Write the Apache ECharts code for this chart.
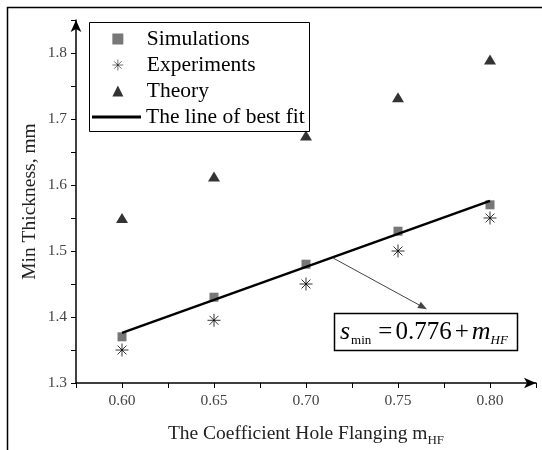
<!DOCTYPE html>
<html>
<head>
<meta charset="utf-8">
<script src="https://cdn.jsdelivr.net/npm/echarts@6/dist/echarts.min.js"></script>
<style>
  html, body { margin: 0; padding: 0; background: #fff; }
  #chart { width: 542px; height: 450px; }
</style>
</head>
<body>
<div id="chart"></div>
<script>
// values
var coef = [0.60, 0.65, 0.70, 0.75, 0.80];
var simulations = [1.37, 1.43, 1.48, 1.53, 1.57];
var experiments = [1.35, 1.395, 1.45, 1.50, 1.55];
var theory = [1.55, 1.613, 1.675, 1.733, 1.79];
var fitX = [0.60, 0.80];
var fitY = [1.376, 1.576];
var arrowFrom = [0.7147, 1.4894];
var arrowTo = [0.7636, 1.415];

function pairs(xs, ys) {
    return xs.map(function (x, i) { return [x, ys[i]]; });
}

var serif = 'Liberation Serif, Times New Roman, serif';
var squarePath = 'path://M0,0H1V1H0Z';
var trianglePath = 'path://M0.5,0L1,1H0Z';
var starPath = 'path://M5,0V10M0,5H10M1.6,1.6L8.4,8.4M1.6,8.4L8.4,1.6';

var myChart = echarts.init(document.getElementById('chart'));
var option = {
    animation: false,
    backgroundColor: '#fff',
    grid: { left: 76, right: 6, top: 20, bottom: 67, outerBoundsMode: 'none', containLabel: false },
    legend: [
        {
            data: [
                { name: 'Simulations' },
                { name: 'Experiments', itemStyle: { borderWidth: 0.7 } },
                { name: 'Theory' }
            ],
            orient: 'vertical',
            left: 107, top: 23,
            itemWidth: 48, itemHeight: 11, itemGap: 4,
            symbolKeepAspect: true,
            selectedMode: false,
            textStyle: { fontFamily: serif, fontSize: 21.5, color: '#000', lineHeight: 21 }
        },
        {
            data: [{ name: 'The line of best fit', icon: 'rect' }],
            left: 87, top: 101,
            itemWidth: 49, itemHeight: 3,
            selectedMode: false,
            textStyle: { fontFamily: serif, fontSize: 21.5, color: '#000', lineHeight: 21 }
        }
    ],
    xAxis: {
        type: 'value',
        min: 0.575, max: 0.825, interval: 0.025,
        name: 'The Coefficient Hole Flanging m{sub|HF}',
        nameLocation: 'middle', nameGap: 38,
        nameTextStyle: {
            fontFamily: serif, fontSize: 19.5, color: '#222',
            rich: { sub: { fontFamily: serif, fontSize: 13, color: '#222', verticalAlign: 'bottom', padding: [13, 0, 0, 0] } }
        },
        axisLine: { lineStyle: { color: '#000', width: 1.5 }, symbol: ['none', 'arrow'], symbolSize: [8, 12] },
        axisTick: { lineStyle: { color: '#000' }, length: 5 },
        splitLine: { show: false },
        axisLabel: {
            fontFamily: serif, fontSize: 15.5, color: '#444', margin: 10,
            formatter: function (v) {
                return Math.round(v * 1000) % 50 === 0 && v > 0.58 && v < 0.82 ? v.toFixed(2) : '';
            }
        }
    },
    yAxis: {
        type: 'value',
        min: 1.3, max: 1.85, interval: 0.05,
        name: 'Min Thickness, mm',
        nameLocation: 'middle', nameGap: 36,
        nameMoveOverlap: false,
        nameTextStyle: { fontFamily: serif, fontSize: 19.5, color: '#222' },
        axisLine: { show: true, lineStyle: { color: '#000', width: 1.5 }, symbol: ['none', 'arrow'], symbolSize: [8, 12] },
        axisTick: { show: true, lineStyle: { color: '#000' }, length: 5 },
        splitLine: { show: false },
        axisLabel: {
            fontFamily: serif, fontSize: 15.5, color: '#444', margin: 9,
            formatter: function (v) {
                return Math.round(v * 100) % 10 === 0 && v < 1.82 ? v.toFixed(1) : '';
            }
        }
    },
    series: [
        {
            name: 'Simulations', type: 'scatter',
            data: pairs(coef, simulations),
            symbol: squarePath, symbolSize: 9,
            itemStyle: { color: '#555' }
        },
        {
            name: 'Experiments', type: 'scatter',
            data: pairs(coef, experiments),
            symbol: starPath, symbolSize: 13,
            itemStyle: { color: '#000', borderColor: '#000', borderWidth: 1 }
        },
        {
            name: 'Theory', type: 'scatter',
            data: pairs(coef, theory),
            symbol: trianglePath, symbolSize: [12, 10],
            itemStyle: { color: '#000' }
        },
        {
            name: 'The line of best fit', type: 'line',
            data: pairs(fitX, fitY),
            showSymbol: false, symbol: 'none',
            itemStyle: { color: '#000' },
            lineStyle: { color: '#000', width: 2.5 },
            markLine: {
                silent: true,
                symbol: ['none', 'triangle'],
                symbolSize: [7, 9],
                label: { show: false },
                lineStyle: { color: '#444', width: 1, type: 'solid' },
                data: [[{ coord: arrowFrom }, { coord: arrowTo }]]
            }
        }
    ],
    graphic: [
        {
            type: 'polyline',
            shape: { points: [[7.5, 450], [7.5, 7.5], [542, 7.5]] },
            style: { stroke: '#000', lineWidth: 1.5, fill: null }
        },
        {
            type: 'rect',
            shape: { x: 89.5, y: 22.5, width: 220, height: 109 },
            style: { stroke: '#000', lineWidth: 1, fill: null },
            z: 1
        },
        {
            type: 'rect',
            shape: { x: 334.5, y: 313.5, width: 183, height: 37 },
            style: { stroke: '#000', lineWidth: 1.5, fill: '#fff' },
            z: 1
        },
        {
            type: 'text',
            x: 340, y: 332,
            z: 2,
            style: {
                text: '{i|s}{sub|min}{op|=}{n|0.776}{op|+}{i|m}{sub2|HF}',
                verticalAlign: 'middle',
                fill: '#000',
                rich: {
                    i: { fontFamily: serif, fontStyle: 'italic', fontSize: 26, lineHeight: 30 },
                    n: { fontFamily: serif, fontSize: 25, lineHeight: 30 },
                    op: { fontFamily: serif, fontSize: 25, lineHeight: 30, padding: [0, 3, 0, 3] },
                    sub: { fontFamily: serif, fontSize: 13, lineHeight: 14, verticalAlign: 'bottom', padding: [0, 4, 0, 1] },
                    sub2: { fontFamily: serif, fontStyle: 'italic', fontSize: 13, lineHeight: 14, verticalAlign: 'bottom' }
                }
            }
        }
    ]
};
myChart.setOption(option);
window.onresize = myChart.resize;
</script>
</body>
</html>
